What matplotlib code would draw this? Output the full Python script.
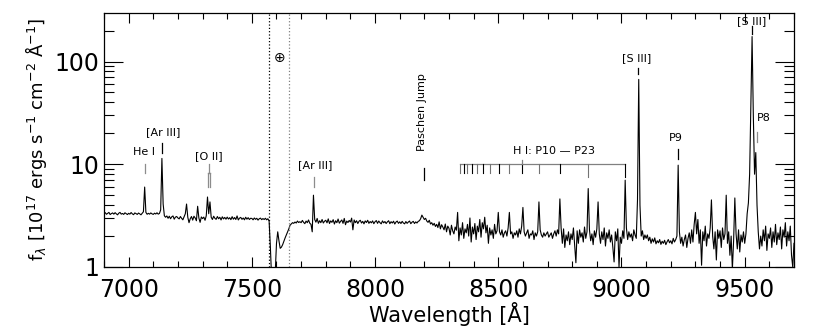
import numpy as np
import matplotlib
matplotlib.use("Agg")
import matplotlib.pyplot as plt
from matplotlib.ticker import FixedLocator, NullFormatter, MultipleLocator

# wavelength grid of the spectrum (5 A per sample)
wave = np.arange(6900, 9705, 5)

# flux in 1e-17 erg/s/cm2/A (100 A per row)
flux_blue = [
    3.30, 3.38, 3.26, 3.33, 3.40, 3.24, 3.31, 3.36, 3.27, 3.38, 3.29, 3.22, 3.34, 3.40, 3.27, 3.32, 3.25, 3.37, 3.30, 3.24,
    3.33, 3.27, 3.39, 3.29, 3.23, 3.36, 3.31, 3.25, 3.35, 3.29, 3.22, 3.33, 3.45, 6.00, 3.40, 3.26, 3.33, 3.27, 3.36, 3.29,
    3.25, 3.34, 3.28, 3.37, 3.27, 3.32, 3.60, 11.4, 4.10, 3.15, 3.05, 3.14, 2.98, 3.12, 2.95, 3.08, 3.14, 2.92, 3.06, 3.10,
    3.00, 2.94, 3.10, 2.98, 2.88, 3.08, 3.30, 4.10, 3.05, 2.70, 2.95, 3.10, 2.86, 3.12, 3.00, 2.82, 3.90, 3.00, 2.72, 3.07,
    2.96, 3.06, 2.85, 3.15, 4.80, 3.30, 4.30, 3.05, 2.90, 3.12, 2.98, 2.91, 3.10, 2.95, 3.05, 2.87, 3.08, 2.94, 3.04, 2.92,
    3.06, 2.93, 3.02, 2.89, 3.09, 2.92, 3.03, 2.90, 3.14, 2.87, 2.99, 3.04, 2.91, 3.00, 2.88, 3.05, 2.92, 3.02, 2.90, 2.98,
]
flux_telluric = [
    2.97, 2.88, 3.00, 2.91, 2.98, 2.86, 2.95, 2.99, 2.89, 2.96, 2.90, 2.98, 2.88, 2.95, 2.80, 1.60, 0.80, 0.55, 0.60, 0.90,
    1.70, 2.20, 1.80, 1.52, 1.56, 1.65, 1.78, 1.92, 2.05, 2.20, 2.35, 2.55, 2.62, 2.70, 2.66, 2.74, 2.68, 2.80, 2.71, 2.76,
]
flux_mid = [
    2.70, 2.84, 2.72, 2.64, 2.80, 2.70, 2.87, 2.67, 2.60, 2.20, 5.00, 2.90, 2.73, 2.97, 2.66, 2.82, 2.70, 2.90, 2.68, 2.79,
    2.85, 2.69, 2.94, 2.65, 2.81, 2.72, 2.89, 2.62, 2.82, 2.70, 2.93, 2.67, 2.78, 2.87, 2.66, 2.97, 2.58, 2.80, 2.71, 2.84,
    2.74, 2.99, 2.30, 2.87, 2.70, 2.82, 2.65, 2.79, 2.85, 2.68, 2.78, 2.63, 2.81, 2.71, 2.85, 2.66, 2.77, 2.69, 2.81, 2.64,
    2.76, 2.83, 2.66, 2.80, 2.70, 2.63, 2.81, 2.69, 2.77, 2.65, 2.75, 2.82, 2.64, 2.76, 2.68, 2.79, 2.62, 2.74, 2.80, 2.66,
    2.75, 2.65, 2.78, 2.68, 2.63, 2.77, 2.66, 2.74, 2.80, 2.64, 2.73, 2.78, 2.65, 2.75, 2.68, 2.78, 2.82, 2.95, 3.20, 3.05,
    2.90, 2.98, 2.80, 2.72, 2.85, 2.62, 2.70, 2.55, 2.66, 2.48, 2.60, 2.42, 2.75, 2.35, 2.58, 2.45, 2.30, 2.62, 2.20, 2.50,
]
flux_red = [
    2.38, 2.05, 2.55, 2.25, 2.10, 2.45, 2.28, 3.40, 1.80, 2.40, 2.05, 2.70, 1.90, 2.35, 2.15, 2.60, 2.00, 3.00, 1.75, 2.45,
    2.10, 2.65, 1.85, 2.50, 2.20, 2.90, 1.95, 2.70, 2.35, 3.05, 2.15, 2.55, 1.70, 2.40, 2.05, 2.30, 1.90, 2.60, 2.10, 2.25,
    3.40, 2.20, 2.05, 2.30, 1.95, 2.15, 2.25, 2.00, 2.40, 3.40, 2.10, 2.20, 1.90, 2.15, 2.05, 2.25, 1.95, 2.35, 2.10, 2.50,
    3.80, 2.20, 2.00, 2.15, 2.30, 1.90, 2.10, 2.05, 2.25, 1.85, 2.15, 2.00, 2.20, 4.30, 2.30, 2.05, 1.95, 2.15, 2.00, 2.10,
    2.20, 1.95, 2.05, 2.15, 1.90, 2.10, 2.25, 2.00, 2.30, 2.10, 4.60, 2.40, 1.70, 2.35, 1.55, 2.05, 1.80, 2.20, 1.65, 2.10,
    1.85, 2.40, 1.60, 1.10, 2.25, 1.70, 2.30, 1.95, 2.15, 1.75, 2.45, 1.90, 2.20, 5.80, 2.30, 1.80, 2.10, 1.65, 2.25, 1.95,
    2.35, 4.30, 2.10, 1.70, 2.20, 1.85, 2.40, 1.60, 2.15, 1.90, 2.30, 1.75, 2.05, 1.55, 1.12, 2.20, 1.80, 2.35, 1.00, 1.95,
    1.70, 2.25, 1.90, 7.00, 2.40, 1.85, 2.20, 1.95, 2.10, 1.80, 2.30, 2.05, 1.90, 4.50, 67.0, 4.00, 2.00, 2.25, 1.85, 2.05,
    1.90, 2.05, 1.80, 1.95, 1.70, 1.88, 1.75, 1.92, 1.68, 1.80, 1.72, 1.85, 1.66, 1.78, 1.70, 1.82, 1.65, 1.76, 1.85, 1.72,
    1.80, 1.68, 1.90, 1.75, 1.85, 2.00, 9.80, 2.20, 1.70, 1.95, 1.60, 1.85, 2.05, 1.55, 1.90, 2.15, 1.70, 2.30, 1.75, 2.60,
    3.40, 2.10, 2.90, 1.70, 2.30, 1.04, 2.20, 1.80, 2.50, 1.60, 2.10, 1.90, 2.40, 4.50, 2.00, 1.50, 2.20, 1.17, 2.30, 1.90,
    2.25, 1.55, 2.40, 1.85, 2.10, 5.00, 1.70, 2.20, 1.30, 2.00, 0.95, 1.80, 4.70, 2.10, 1.50, 2.30, 1.40, 2.05, 1.75, 2.20,
    1.70, 2.10, 3.30, 4.20, 8.00, 40.0, 175., 30.0, 8.00, 13.0, 4.00, 2.20, 1.50, 2.00, 1.60, 2.30, 1.80, 2.50, 1.45, 2.10,
    1.90, 2.40, 1.55, 2.20, 1.75, 2.60, 1.65, 2.15, 1.85, 2.45, 1.50, 2.30, 1.95, 2.70, 1.60, 2.20, 1.80, 2.50, 1.30, 1.00,
    1.70,
]
flux = np.array(flux_blue + flux_telluric + flux_mid + flux_red)

# line identifications
line_names = ['He I', '[Ar III]', '[O II]', '[Ar III]', '[S III]', 'P9', '[S III]', 'P8']
line_waves = [7065, 7136, 7325, 7751, 9069, 9229, 9531, 9548]
# Paschen series P10 ... P23
paschen_waves = [9015, 8863, 8750, 8665, 8598, 8545, 8502, 8467, 8437, 8413, 8392, 8374, 8359, 8345]
paschen_jump = 8195
telluric = [7570, 7650]

fig = plt.figure(figsize=(8.3, 3.32), dpi=100)
ax = fig.add_axes([0.1253, 0.1958, 0.8313, 0.7665])

ax.plot(wave, flux, color='black', lw=0.8)
ax.set_yscale('log')
ax.set_xlim(6900, 9700)
ax.set_ylim(1, 300)

# telluric A band
ax.axvline(telluric[0], color='black', ls=':', lw=0.9)
ax.axvline(telluric[1], color='0.5', ls=':', lw=0.9)
ax.text(np.mean(telluric), 108, r'$\oplus$', ha='center', va='center', fontsize=10)

# labels: (text x, text y, tick bottom, tick top, tick colour)
lab_pos = [
    (7062, 13.2, 8.2, 10.0, '0.55'),
    (7139, 20.5, 12.8, 16.0, 'black'),
    (7326, 12.0, 8.2, 10.0, '0.55'),
    (7756, 9.8, 6.0, 7.5, '0.55'),
    (9060, 109, 76, 87, 'black'),
    (9220, 18.0, 11.2, 14.0, 'black'),
    (9528, 245, 187, 223, 'black'),
    (9576, 28.5, 16.3, 20.4, '0.55'),
]
for name, w, (tx, ty, y0, y1, c) in zip(line_names, line_waves, lab_pos):
    ax.text(tx, ty, name, ha='center', va='center', fontsize=8)
    if name == '[O II]':
        # forked marker for the doublet
        ax.plot([w, w], [y0, y1], color=c, lw=0.9)
        ax.plot([w - 4, w + 4], [y0, y0], color=c, lw=0.9)
        ax.plot([w - 4, w - 4], [6.0, y0], color=c, lw=0.9)
        ax.plot([w + 4, w + 4], [6.0, y0], color=c, lw=0.9)
    else:
        ax.plot([w, w], [y0, y1], color=c, lw=0.9)

# Paschen jump
ax.text(paschen_jump - 5, 32, 'Paschen Jump', rotation=90, ha='center', va='center', fontsize=8)
ax.plot([paschen_jump + 5, paschen_jump + 5], [7.0, 9.1], color='black', lw=0.9)

# H I comb
ax.plot([min(paschen_waves), max(paschen_waves)], [10, 10], color='0.5', lw=0.9)
for i, w in enumerate(paschen_waves):
    ybot = 7.5 if i < 2 else 8.2
    ax.plot([w, w], [ybot, 10], color='0.45' if i % 2 else 'black', lw=0.8)
ax.plot([8598, 8598], [10, 10.9], color='0.5', lw=0.9)
ax.text(8725, 13.6, 'H I: P10 \u2014 P23', ha='center', va='center', fontsize=8)

# axes and ticks in IDL style
ax.set_yticks([1, 10, 100])
ax.set_yticklabels(['1', '10', '100'])
ax.yaxis.set_minor_locator(FixedLocator([k * 10 ** d for d in range(0, 3) for k in range(2, 10) if k * 10 ** d < 300]))
ax.yaxis.set_minor_formatter(NullFormatter())
ax.xaxis.set_major_locator(MultipleLocator(500))
ax.xaxis.set_minor_locator(MultipleLocator(100))
ax.tick_params(which='both', direction='in', top=True, right=True, width=0.8)
ax.tick_params(which='major', axis='y', length=14, labelsize=17)
ax.tick_params(which='minor', axis='y', length=7)
ax.tick_params(which='major', axis='x', length=7, labelsize=17, pad=8)
ax.tick_params(which='minor', axis='x', length=4)
for s in ax.spines.values():
    s.set_linewidth(0.9)

ax.set_xlabel('Wavelength [Å]', fontsize=15, labelpad=0)
ax.set_ylabel(r'f$_\lambda$ [10$^{17}$ ergs s$^{-1}$ cm$^{-2}$ Å$^{-1}$]', fontsize=13, labelpad=4)

fig.savefig('out.png', dpi=100)
